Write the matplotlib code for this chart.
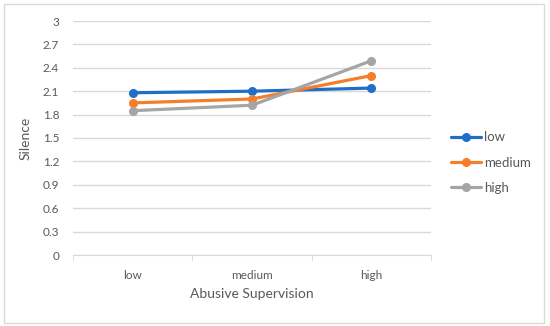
import matplotlib
matplotlib.use("Agg")
import matplotlib.pyplot as plt
from matplotlib.patches import Rectangle

categories = ["low", "medium", "high"]
series_names = ["low", "medium", "high"]
low_vals = [2.08, 2.10, 2.14]
medium_vals = [1.95, 2.00, 2.30]
high_vals = [1.85, 1.92, 2.49]
yticks = [0, 0.3, 0.6, 0.9, 1.2, 1.5, 1.8, 2.1, 2.4, 2.7, 3]
ytick_labels = ["0", "0.3", "0.6", "0.9", "1.2", "1.5", "1.8", "2.1", "2.4", "2.7", "3"]

colors = ["#1F6FC8", "#F57E2B", "#A5A5A5"]
txt = "#595959"
plt.rcParams['font.family'] = ['Lato', 'DejaVu Sans']

fig = plt.figure(figsize=(5.5, 3.26), dpi=100)
fig.patches.append(Rectangle((4/550, 3/326), 540/550, 319/326, transform=fig.transFigure,
                             fill=False, edgecolor="#D9D9D9", linewidth=1))
ax = fig.add_axes([73/550, 1-255/326, 358/550, 234/326])

x = list(range(len(categories)))
for vals, name, c in zip([low_vals, medium_vals, high_vals], series_names, colors):
    ax.plot(x, vals, color=c, linewidth=2.3, marker="o", markersize=5.5, label=name,
            solid_capstyle="round")

ax.set_xlim(-0.5, 2.5)
ax.set_ylim(0, 3)
ax.set_yticks(yticks)
ax.set_yticklabels(ytick_labels)
ax.set_xticks(x)
ax.set_xticklabels(categories)
ax.grid(axis="y", color="#D9D9D9", linewidth=1)
ax.set_axisbelow(True)
for s in ["top", "right", "left"]:
    ax.spines[s].set_visible(False)
ax.spines["bottom"].set_color("#D9D9D9")
ax.tick_params(axis="y", length=0, labelsize=8.5, labelcolor=txt, pad=10)
ax.tick_params(axis="x", length=0, labelsize=8.5, labelcolor=txt, pad=11)
# category boundary ticks
ax.set_xticks([-0.5, 0.5, 1.5, 2.5], minor=True)
ax.tick_params(axis="x", which="minor", length=4, color="#D9D9D9")

ax.set_xlabel("Abusive Supervision", fontsize=10, color=txt, labelpad=5)
ax.set_ylabel("Silence", fontsize=10, color=txt, labelpad=8)

leg = ax.legend(loc="center left", bbox_to_anchor=(1.055, 0.395), frameon=False,
                fontsize=9.5, labelcolor=txt, handlelength=2.3, handletextpad=0.2,
                labelspacing=1.0, borderaxespad=0, borderpad=0)

fig.savefig("out.png", dpi=100)
